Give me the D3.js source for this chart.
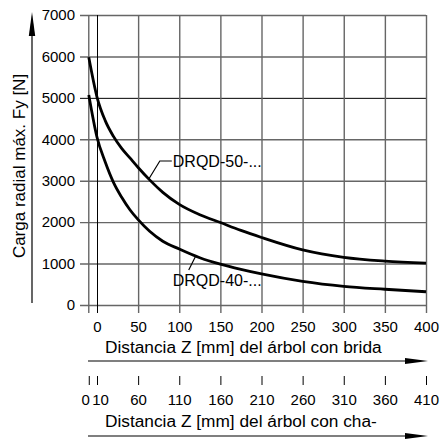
<!DOCTYPE html>
<html><head><meta charset="utf-8">
<script src="https://cdn.jsdelivr.net/npm/d3@7"></script>
<style>
html,body{margin:0;padding:0;background:#fff;}
svg{display:block;font-family:"Liberation Sans",Arial,sans-serif;}
</style></head>
<body>
<svg id="c" width="442" height="441"></svg>
<script>
// ---- data ----
const zFlange = [-10, 0, 10, 20, 30, 40, 50, 64, 80, 100, 125, 150, 175, 200, 250, 300, 350, 400];
const drqd50 = [5980, 5020, 4450, 4070, 3780, 3550, 3320, 3020, 2720, 2430, 2180, 1990, 1800, 1630, 1330, 1150, 1060, 1010];
const drqd40 = [5070, 4050, 3450, 2960, 2600, 2300, 2060, 1780, 1540, 1350, 1140, 985, 860, 750, 570, 450, 380, 320];
const yTicks = [0, 1000, 2000, 3000, 4000, 5000, 6000, 7000];
const xTicks = [0, 50, 100, 150, 200, 250, 300, 350, 400];
const x2Ticks = [0, 10, 60, 110, 160, 210, 260, 310, 360, 410];
const seriesNames = ["DRQD-50-...", "DRQD-40-..."];
const yTitle = "Carga radial máx. Fy [N]";
const xTitle1 = "Distancia Z [mm] del árbol con brida";
const xTitle2 = "Distancia Z [mm] del árbol con cha-";

// ---- layout ----
const svg = d3.select("#c");
const L = 80, R = 426, T = 15, B = 305;
const x = d3.scaleLinear().domain([0, 400]).range([97, 426]);
const x2 = d3.scaleLinear().domain([10, 410]).range([97, 426]);
const y = d3.scaleLinear().domain([0, 7000]).range([B, T]);
const gridCol = "#666";
const ff = "Liberation Sans, Arial, sans-serif";

// y axis with horizontal grid
const gy = svg.append("g").attr("transform", `translate(${L},0)`)
  .call(d3.axisLeft(y).tickValues(yTicks).tickSize(-(R - L)).tickPadding(5).tickFormat(d3.format("d")));
gy.select(".domain").remove();
gy.selectAll(".tick line").attr("stroke", d => d === 5000 ? "#000" : gridCol)
  .attr("stroke-width", d => d === 5000 ? 1 : 1.4);
gy.selectAll(".tick text").attr("font-size", 15).attr("fill", "#000").attr("font-family", ff);

// x axis (flange scale) with vertical grid
const gx = svg.append("g").attr("transform", `translate(0,313)`)
  .call(d3.axisBottom(x).tickValues(xTicks).tickSize(-(313 - T)).tickPadding(8.5));
gx.select(".domain").remove();
gx.selectAll(".tick line").attr("stroke", d => d === 0 ? "#000" : gridCol)
  .attr("stroke-width", d => d === 0 ? 1 : 1.4);
gx.selectAll(".tick text").attr("font-size", 15).attr("fill", "#000").attr("font-family", ff);
// extra grid line at -10
svg.append("line").attr("x1", x(-10)).attr("x2", x(-10)).attr("y1", T).attr("y2", 313)
  .attr("stroke", gridCol).attr("stroke-width", 1.4);

// second axis (shaft scale)
const gx2 = svg.append("g").attr("transform", `translate(0,376)`)
  .call(d3.axisBottom(x2).tickValues(x2Ticks).tickSize(9).tickPadding(9));
gx2.select(".domain").remove();
gx2.selectAll(".tick line").attr("stroke", "#000").attr("stroke-width", 1);
gx2.selectAll(".tick text").attr("font-size", 15).attr("fill", "#000").attr("font-family", ff)
  .attr("dx", d => d === 0 ? -3.5 : d === 10 ? 3 : 0);

// curves
const line = d3.line().x((d, i) => x(zFlange[i])).y(d => y(d)).curve(d3.curveMonotoneX);
[drqd50, drqd40].forEach(s => {
  svg.append("path").attr("d", line(s)).attr("fill", "none")
    .attr("stroke", "#000").attr("stroke-width", 2.8).attr("stroke-linejoin", "round");
});

// series labels with leaders
const interp = (arr, v) => {
  for (let i = 0; i < zFlange.length - 1; i++) {
    if (v >= zFlange[i] && v <= zFlange[i + 1]) {
      const t = (v - zFlange[i]) / (zFlange[i + 1] - zFlange[i]);
      return arr[i] + t * (arr[i + 1] - arr[i]);
    }
  }
  return arr[arr.length - 1];
};
const a50x = x(63), a50y = y(interp(drqd50, 63));
svg.append("polyline").attr("points", `${a50x},${a50y} ${a50x + 11},${a50y - 18} ${a50x + 23},${a50y - 18}`)
  .attr("fill", "none").attr("stroke", "#000").attr("stroke-width", 1.2);
svg.append("text").attr("x", a50x + 24).attr("y", a50y - 11.5).attr("font-size", 16).text(seriesNames[0]);

const a40x = x(120), a40y = y(interp(drqd40, 120));
svg.append("polyline").attr("points", `${a40x},${a40y} ${a40x - 7},${a40y + 14}`)
  .attr("fill", "none").attr("stroke", "#000").attr("stroke-width", 1.2);
svg.append("text").attr("x", a40x - 23).attr("y", a40y + 30).attr("font-size", 16).text(seriesNames[1]);

// y title + arrow
svg.append("text").attr("transform", "translate(25,166) rotate(-90)")
  .attr("text-anchor", "middle").attr("font-size", 17).text(yTitle);
svg.append("line").attr("x1", 32).attr("x2", 32).attr("y1", 303).attr("y2", 30)
  .attr("stroke", "#000").attr("stroke-width", 1.2);
svg.append("polygon").attr("points", "32,12 28.8,36 35.2,36").attr("fill", "#000");

// x titles + arrows
[[xTitle1, 353, 361], [xTitle2, 427, 436]].forEach(([t, by, ay]) => {
  svg.append("text").attr("x", 105).attr("y", by).attr("font-size", 17.3).text(t);
  svg.append("line").attr("x1", 88).attr("x2", 410).attr("y1", ay).attr("y2", ay)
    .attr("stroke", "#000").attr("stroke-width", 1.2);
  svg.append("polygon").attr("points", `405,${ay - 3} 428,${ay} 405,${ay + 3}`).attr("fill", "#000");
});
</script>
</body></html>
